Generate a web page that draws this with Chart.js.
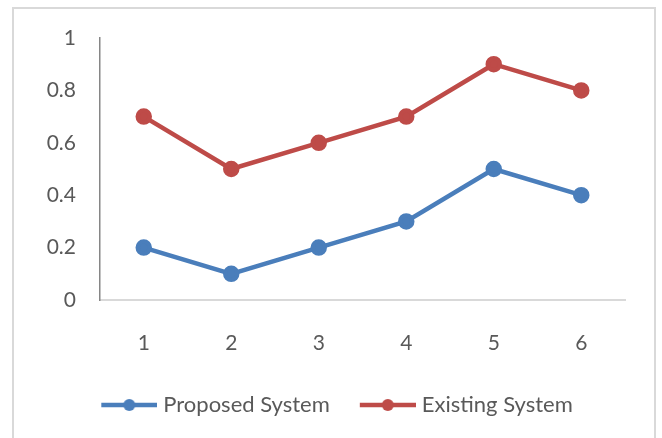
<!DOCTYPE html>
<html lang="en">
<head>
    <meta charset="UTF-8">
    <title>Proposed vs Existing System</title>
    <script src="https://cdn.jsdelivr.net/npm/chart.js"></script>
    <style>
        body {
            margin: 0;
            background: #ffffff;
        }
        #frame {
            position: absolute;
            left: 12px;
            top: 7px;
            width: 640px;
            height: 450px;
            border: 2px solid #d9d9d9;
        }
        #wrap {
            position: absolute;
            left: 0;
            top: 0;
            width: 662px;
            height: 438px;
        }
    </style>
</head>
<body>
    <div id="frame"></div>
    <div id="wrap">
        <canvas id="chart" width="662" height="438"></canvas>
    </div>

    <script>
        const categories = ['1', '2', '3', '4', '5', '6'];
        const proposed = [0.2, 0.1, 0.2, 0.3, 0.5, 0.4];
        const existing = [0.7, 0.5, 0.6, 0.7, 0.9, 0.8];
        const seriesNames = ['Proposed System', 'Existing System'];

        const blue = '#4a7ebb';
        const red = '#be4b48';
        const textColor = '#595959';

        // little line + dot picture for the legend, like Excel does
        function legendMark(color) {
            const c = document.createElement('canvas');
            c.width = 81;
            c.height = 16;
            const g = c.getContext('2d');
            g.strokeStyle = color;
            g.lineWidth = 4.5;
            g.beginPath();
            g.moveTo(25, 8);
            g.lineTo(81, 8);
            g.stroke();
            g.fillStyle = color;
            g.beginPath();
            g.arc(53, 8, 6, 0, Math.PI * 2);
            g.fill();
            return c;
        }

        const marks = [legendMark(blue), legendMark(red)];

        new Chart(document.getElementById('chart'), {
            type: 'line',
            data: {
                labels: categories,
                datasets: [{
                    label: seriesNames[0],
                    data: proposed,
                    borderColor: blue,
                    backgroundColor: blue,
                    borderWidth: 4.5,
                    pointRadius: 6,
                    pointHoverRadius: 6,
                    tension: 0
                }, {
                    label: seriesNames[1],
                    data: existing,
                    borderColor: red,
                    backgroundColor: red,
                    borderWidth: 4.5,
                    pointRadius: 6,
                    pointHoverRadius: 6,
                    tension: 0
                }]
            },
            options: {
                responsive: false,
                animation: false,
                layout: {
                    padding: { left: 29, right: 37, top: 38, bottom: 12 }
                },
                scales: {
                    x: {
                        offset: true,
                        grid: { display: false, drawTicks: false },
                        border: { display: true, color: '#d9d9d9', width: 2 },
                        ticks: {
                            color: textColor,
                            padding: 31,
                            font: { family: 'Lato', size: 21 }
                        },
                        afterFit: s => { s.height = 84; }
                    },
                    y: {
                        min: 0,
                        max: 1,
                        grid: { display: false, drawTicks: false },
                        border: { display: true, color: '#868686', width: 1.5 },
                        ticks: {
                            stepSize: 0.2,
                            color: textColor,
                            padding: 24,
                            font: { family: 'Lato', size: 21 },
                            callback: v => String(Math.round(v * 10) / 10)
                        },
                        afterFit: s => { s.width = 71; }
                    }
                },
                plugins: {
                    tooltip: { enabled: false },
                    legend: {
                        position: 'bottom',
                        labels: {
                            color: textColor,
                            font: { family: 'Lato', size: 22 },
                            usePointStyle: true,
                            pointStyleWidth: 71,
                            padding: 10,
                            generateLabels: chart => {
                                const items = Chart.defaults.plugins.legend.labels.generateLabels(chart);
                                items.forEach((it, i) => { it.pointStyle = marks[i]; });
                                return items;
                            }
                        }
                    }
                }
            }
        });
    </script>
</body>
</html>
